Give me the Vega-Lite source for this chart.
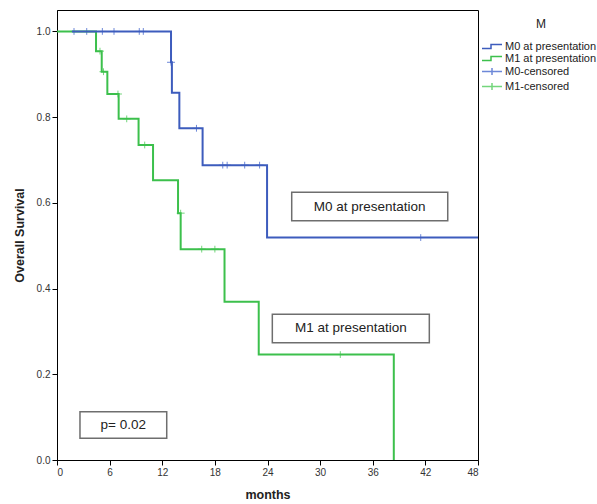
{
  "$schema": "https://vega.github.io/schema/vega-lite/v6.json",
  "width": 421,
  "height": 450,
  "autosize": "none",
  "padding": {"left": 57, "top": 10, "right": 119, "bottom": 44},
  "background": "white",
  "config": {
    "font": "Liberation Sans",
    "view": {"stroke": "black", "strokeWidth": 1}
  },
  "datasets": {
    "curves": [
      {"series": "M1 at presentation", "months": 0, "surv": 1.0},
      {"series": "M1 at presentation", "months": 4.45, "surv": 0.954},
      {"series": "M1 at presentation", "months": 5.1, "surv": 0.906},
      {"series": "M1 at presentation", "months": 5.74, "surv": 0.854},
      {"series": "M1 at presentation", "months": 7.03, "surv": 0.796},
      {"series": "M1 at presentation", "months": 9.3, "surv": 0.735},
      {"series": "M1 at presentation", "months": 10.95, "surv": 0.653},
      {"series": "M1 at presentation", "months": 13.8, "surv": 0.576},
      {"series": "M1 at presentation", "months": 14.1, "surv": 0.492},
      {"series": "M1 at presentation", "months": 19.1, "surv": 0.369},
      {"series": "M1 at presentation", "months": 23.0, "surv": 0.246},
      {"series": "M1 at presentation", "months": 38.4, "surv": 0.0},
      {"series": "M0 at presentation", "months": 1.7, "surv": 1.0},
      {"series": "M0 at presentation", "months": 13.0, "surv": 0.928},
      {"series": "M0 at presentation", "months": 13.1, "surv": 0.857},
      {"series": "M0 at presentation", "months": 13.95, "surv": 0.774},
      {"series": "M0 at presentation", "months": 16.6, "surv": 0.688},
      {"series": "M0 at presentation", "months": 23.95, "surv": 0.519},
      {"series": "M0 at presentation", "months": 48, "surv": 0.519}
    ],
    "censored": [
      {"series": "M0-censored", "months": 1.94, "surv": 1.0},
      {"series": "M0-censored", "months": 3.39, "surv": 1.0},
      {"series": "M0-censored", "months": 5.17, "surv": 1.0},
      {"series": "M0-censored", "months": 6.5, "surv": 1.0},
      {"series": "M0-censored", "months": 9.38, "surv": 1.0},
      {"series": "M0-censored", "months": 9.84, "surv": 1.0},
      {"series": "M0-censored", "months": 13.0, "surv": 0.928},
      {"series": "M0-censored", "months": 15.9, "surv": 0.774},
      {"series": "M0-censored", "months": 18.9, "surv": 0.688},
      {"series": "M0-censored", "months": 19.4, "surv": 0.688},
      {"series": "M0-censored", "months": 21.4, "surv": 0.688},
      {"series": "M0-censored", "months": 23.1, "surv": 0.688},
      {"series": "M0-censored", "months": 41.47, "surv": 0.519},
      {"series": "M1-censored", "months": 4.9, "surv": 0.954},
      {"series": "M1-censored", "months": 5.3, "surv": 0.906},
      {"series": "M1-censored", "months": 6.95, "surv": 0.854},
      {"series": "M1-censored", "months": 7.95, "surv": 0.796},
      {"series": "M1-censored", "months": 10.0, "surv": 0.735},
      {"series": "M1-censored", "months": 14.1, "surv": 0.576},
      {"series": "M1-censored", "months": 16.5, "surv": 0.492},
      {"series": "M1-censored", "months": 18.0, "surv": 0.492},
      {"series": "M1-censored", "months": 32.3, "surv": 0.246}
    ],
    "boxes": [
      {"label": "M0 at presentation", "months": 26.76, "months2": 44.55, "surv": 0.5584, "surv2": 0.6246},
      {"label": "M1 at presentation", "months": 24.55, "months2": 42.45, "surv": 0.2737, "surv2": 0.34},
      {"label": "p= 0.02", "months": 2.62, "months2": 12.51, "surv": 0.0506, "surv2": 0.1127}
    ],
    "boxlabels": [
      {"label": "M0 at presentation", "months": 35.65, "surv": 0.5915},
      {"label": "M1 at presentation", "months": 33.5, "surv": 0.307},
      {"label": "p= 0.02", "months": 7.56, "surv": 0.0817}
    ]
  },
  "encoding": {
    "x": {
      "field": "months", "type": "quantitative",
      "scale": {"domain": [0, 48], "nice": false, "zero": false},
      "axis": {
        "title": "months", "values": [0, 6, 12, 18, 24, 30, 36, 42, 48],
        "grid": false, "tickSize": 5, "tickColor": "black", "domainColor": "black",
        "labelFontSize": 10, "labelColor": "#333333", "labelPadding": 2,
        "titleFontSize": 12.5, "titleFontWeight": "bold", "titleColor": "#222222", "titlePadding": 11
      }
    },
    "y": {
      "field": "surv", "type": "quantitative",
      "scale": {"domain": [0, 1.05], "nice": false},
      "axis": {
        "title": "Overall Survival", "values": [0, 0.2, 0.4, 0.6, 0.8, 1.0], "format": ".1f",
        "grid": false, "tickSize": 5, "tickColor": "black", "domainColor": "black",
        "labelFontSize": 10, "labelColor": "#333333", "labelPadding": 2,
        "titleFontSize": 12.5, "titleFontWeight": "bold", "titleColor": "#222222", "titlePadding": 10
      }
    }
  },
  "layer": [
    {
      "data": {"name": "boxes"},
      "mark": {"type": "rect", "fill": "white", "stroke": "#6e6e6e", "strokeWidth": 1.5},
      "encoding": {
        "x2": {"field": "months2"},
        "y2": {"field": "surv2"}
      }
    },
    {
      "data": {"name": "boxlabels"},
      "mark": {"type": "text", "fontSize": 13.5, "color": "#222222", "align": "center", "baseline": "middle"},
      "encoding": {
        "text": {"field": "label"}
      }
    },
    {
      "data": {"name": "censored"},
      "transform": [{"filter": "datum.series === 'M1-censored'"}],
      "mark": {"type": "point", "shape": "M-1,0L1,0M0,-0.85L0,0.85", "size": 64, "filled": false, "strokeWidth": 1, "opacity": 1, "color": "#74d67c"}
    },
    {
      "data": {"name": "censored"},
      "transform": [{"filter": "datum.series === 'M0-censored'"}],
      "mark": {"type": "point", "shape": "M-1,0L1,0M0,-0.85L0,0.85", "size": 64, "filled": false, "strokeWidth": 1, "opacity": 1, "color": "#6d88d8"}
    },
    {
      "data": {"name": "curves"},
      "transform": [{"filter": "datum.series === 'M1 at presentation'"}],
      "mark": {"type": "line", "interpolate": "step-after", "strokeWidth": 2, "color": "#3cc04c"}
    },
    {
      "data": {"name": "curves"},
      "transform": [{"filter": "datum.series === 'M0 at presentation'"}],
      "mark": {"type": "line", "interpolate": "step-after", "strokeWidth": 2, "color": "#3d5cbd"}
    },
    {
      "data": {"name": "censored"},
      "mark": {"type": "point", "filled": false, "opacity": 0, "size": 100},
      "encoding": {
        "color": {
          "field": "series", "type": "nominal",
          "scale": {
            "domain": ["M0 at presentation", "M1 at presentation", "M0-censored", "M1-censored"],
            "range": ["#3d5cbd", "#3cc04c", "#6d88d8", "#74d67c"]
          },
          "legend": {
            "title": "M", "orient": "none", "legendX": 429, "legendY": 9,
            "titleFontSize": 12, "titleFontWeight": "normal", "titleColor": "#222222", "titleAnchor": "middle", "titlePadding": 9.5,
            "labelFontSize": 11, "labelColor": "#222222", "labelOffset": 7,
            "symbolSize": 100, "symbolOpacity": 1, "symbolStrokeWidth": 1.5, "symbolFillColor": "transparent", "rowPadding": 1
          }
        },
        "shape": {
          "field": "series", "type": "nominal",
          "scale": {
            "domain": ["M0 at presentation", "M1 at presentation", "M0-censored", "M1-censored"],
            "range": ["M-2,0.4L-0.2,0.4L-0.2,-0.4L2,-0.4", "M-2,0.4L-0.2,0.4L-0.2,-0.4L2,-0.4", "M-2,0L2,0M0,-0.7L0,0.7", "M-2,0L2,0M0,-0.7L0,0.7"]
          },
          "legend": {
            "title": "M", "orient": "none", "legendX": 429, "legendY": 9,
            "titleFontSize": 12, "titleFontWeight": "normal", "titleColor": "#222222", "titleAnchor": "middle", "titlePadding": 9.5,
            "labelFontSize": 11, "labelColor": "#222222", "labelOffset": 7,
            "symbolSize": 100, "symbolOpacity": 1, "symbolStrokeWidth": 1.5, "symbolFillColor": "transparent", "rowPadding": 1
          }
        }
      }
    }
  ]
}
